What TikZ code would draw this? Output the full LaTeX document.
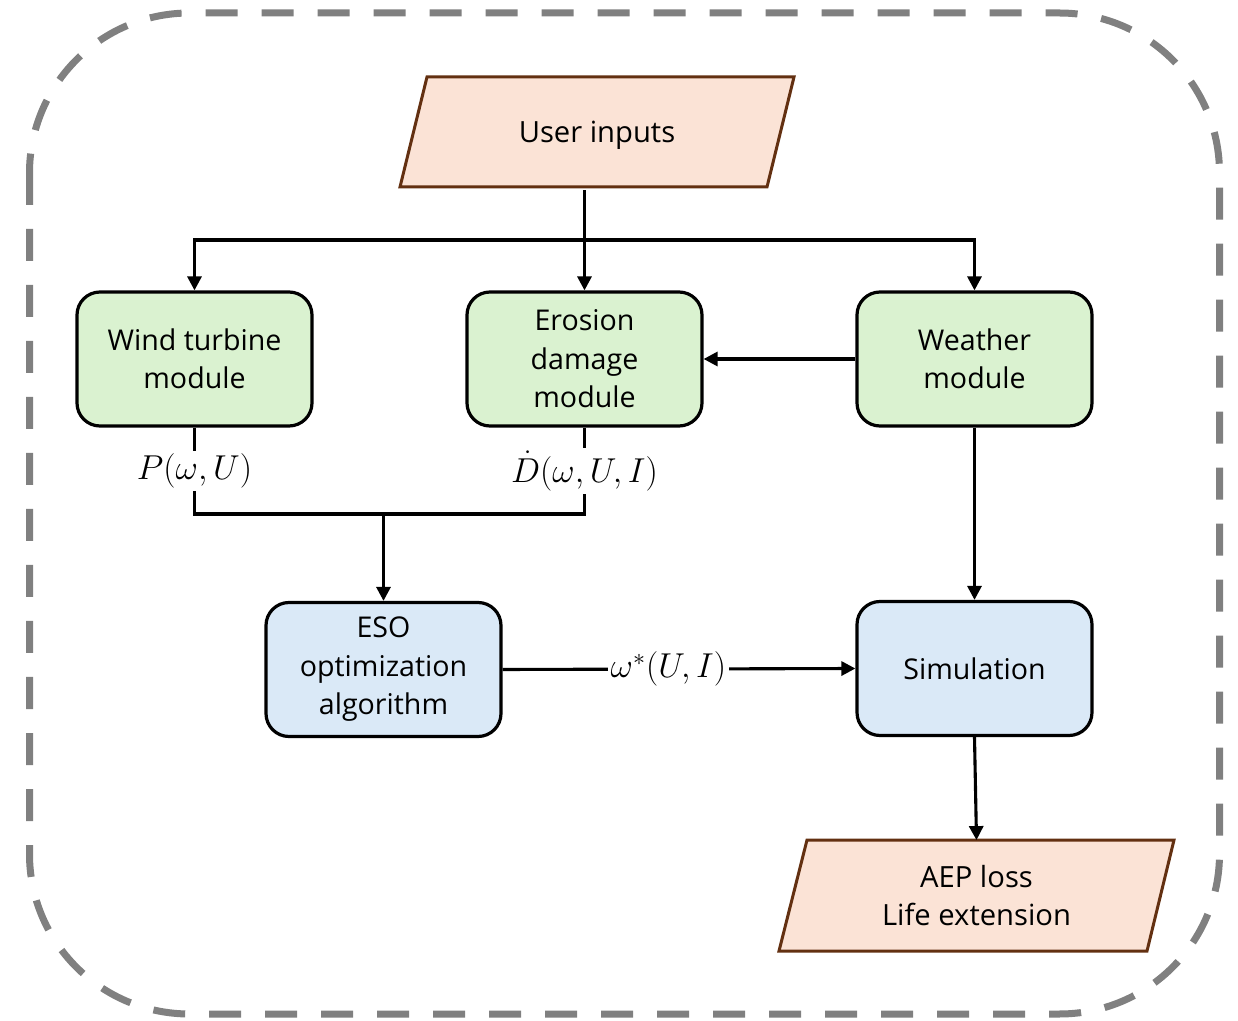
\documentclass[tikz,border=0pt]{standalone}
\usepackage{fontspec}
\setmainfont{Open Sans}
\usetikzlibrary{arrows.meta,calc}
\definecolor{greenfill}{RGB}{218,242,208}
\definecolor{bluefill}{RGB}{218,233,247}
\definecolor{peach}{RGB}{251,227,214}
\definecolor{brownline}{RGB}{99,48,17}
\definecolor{dashgray}{RGB}{128,128,128}
\begin{document}
\begin{tikzpicture}[x=0.5pt,y=-0.5pt,
 box/.style={draw=black, line width=1.6pt, rounded corners=11.5pt, minimum width=117.5pt, minimum height=67pt, align=center, font=\fontsize{14.3}{19.25}\selectfont, inner sep=0pt},
 gbox/.style={box, fill=greenfill},
 bbox/.style={box, fill=bluefill},
 iobox/.style={minimum width=170pt, minimum height=55pt, align=center, font=\fontsize{14.6}{19.25}\selectfont, inner sep=0pt},
 iopath/.style={fill=peach, draw=brownline, line width=1.5pt},
 conn/.style={line width=1.55pt},
 arr/.style={conn, -{Triangle[length=7pt,width=7pt]}},
 lab/.style={fill=white, inner sep=1.5pt, font=\fontsize{16.5}{19}\selectfont}
]
\useasboundingbox (0,0) rectangle (1238,1021);
\draw[dashgray, line width=3.5pt, dash pattern=on 16pt off 12pt, rounded corners=80pt] (29.5,13) rectangle (1219.5,1014);

% input / output parallelograms
\draw[iopath] (427,77) -- (794,77) -- (767,187) -- (400,187) -- cycle;
\node[iobox, yshift=-1.5pt] (ui) at (597,132) {User inputs};
\draw[iopath] (807,840) -- (1174,840) -- (1147,951) -- (779,951) -- cycle;
\node[iobox] (aep) at (976.5,895.5) {AEP loss\\Life extension};

% modules
\node[gbox] (wt) at (194.5,359) {Wind turbine\\module};
\node[gbox] (ed) at (584.5,359) {Erosion\\damage\\module};
\node[gbox] (wm) at (974.5,359) {Weather\\module};
\node[bbox] (eso) at (383.5,669.5) {ESO\\optimization\\algorithm};
\node[bbox] (sim) at (974.5,668.5) {Simulation};

% connectors
\coordinate (split) at (584.5,240);
\coordinate (merge) at (383.5,514);
\draw[arr] (ui.south -| ed.north) -- (ed.north);
\draw[arr] (split) -| (wt.north);
\draw[arr] (split) -| (wm.north);
\draw[arr] (wm.west) -- (ed.east);
\draw[conn] (wt.south) -- node[lab] {$P(\omega,U)$} (wt.south |- merge) -- (ed.south |- merge) -- node[lab] {$\dot{D}(\omega,U,I)$} (ed.south);
\draw[arr] (merge) -- (eso.north);
\draw[arr] (eso.east) -- node[lab, pos=0.47] {$\omega^{*}(U,I)$} (sim.west);
\draw[arr] (wm.south) -- (sim.north);
\draw[arr] (sim.south) -- (aep.north);
\end{tikzpicture}
\end{document}
